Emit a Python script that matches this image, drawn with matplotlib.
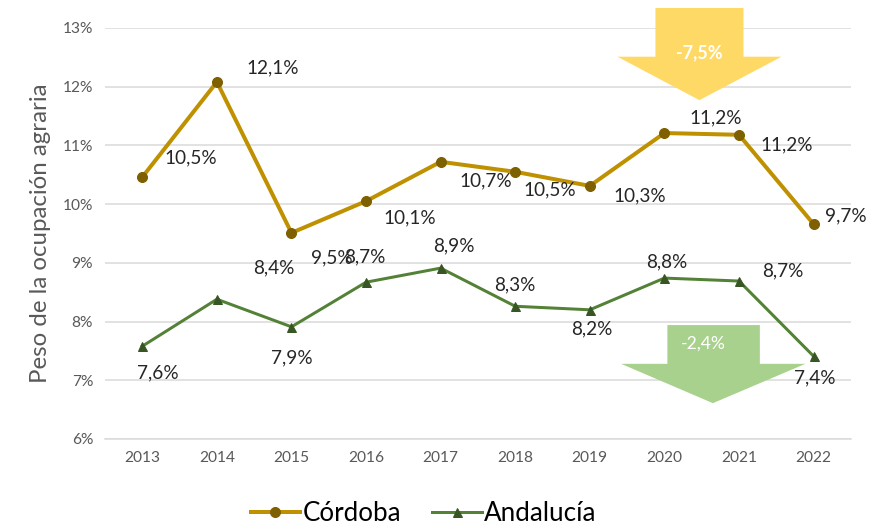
import matplotlib.pyplot as plt
from matplotlib.patches import Polygon
from matplotlib.lines import Line2D

plt.rcParams['font.family'] = ['Lato', 'DejaVu Sans']

years = [2013, 2014, 2015, 2016, 2017, 2018, 2019, 2020, 2021, 2022]
cordoba = [10.46, 12.08, 9.51, 10.05, 10.72, 10.55, 10.31, 11.21, 11.18, 9.66]
andalucia = [7.58, 8.38, 7.91, 8.67, 8.91, 8.26, 8.20, 8.74, 8.69, 7.41]
cordoba_lbl = ['10,5%', '12,1%', '9,5%', '10,1%', '10,7%', '10,5%', '10,3%', '11,2%', '11,2%', '9,7%']
andalucia_lbl = ['7,6%', '8,4%', '7,9%', '8,7%', '8,9%', '8,3%', '8,2%', '8,8%', '8,7%', '7,4%']

# label offsets in pixels (dpi 72 -> points == pixels)
cord_off = [(48, 19), (56, 14), (40, -25), (44, -17), (45, -19), (35, -18),
            (50, -10), (51, 15), (48, -10), (32, 8)]
anda_off = [(16, -27), (57, 31), (0, -31), (-1, 25), (13, 22), (0, 21),
            (2, -19), (2, 16), (44, 10), (1, -22)]

gold = '#BF9000'
green = '#538135'

fig = plt.figure(figsize=(870 / 72, 527 / 72), dpi=72)
ax = fig.add_axes([0.1207, 0.167, 0.8573, 0.78])

ax.set_xlim(2012.5, 2022.5)
ax.set_ylim(6, 13)
ax.set_yticks(range(6, 14))
ax.set_yticklabels([f'{v}%' for v in range(6, 14)])
ax.set_xticks(years)
ax.grid(axis='y', color='#D9D9D9', linewidth=1.5, zorder=0)
ax.set_axisbelow(True)
for s in ['top', 'right', 'left']:
    ax.spines[s].set_visible(False)
ax.spines['bottom'].set_color('#D9D9D9')
ax.spines['bottom'].set_linewidth(1.5)
ax.tick_params(length=0, labelsize=15.5, colors='#595959', pad=12)
ax.set_ylabel('Peso de la ocupación agraria', fontsize=24, color='#595959', labelpad=12)

# arrows (data coords)
gold_arrow = [(2019.88, 13.34), (2021.06, 13.34), (2021.06, 12.51), (2021.57, 12.51),
              (2020.47, 11.77), (2019.37, 12.51), (2019.88, 12.51)]
green_arrow = [(2020.04, 7.94), (2021.28, 7.94), (2021.28, 7.28), (2021.89, 7.28),
               (2020.65, 6.61), (2019.42, 7.28), (2020.04, 7.28)]
ax.add_patch(Polygon(gold_arrow, closed=True, color='#FFD966', zorder=1.5, clip_on=False, lw=0))
ax.add_patch(Polygon(green_arrow, closed=True, color='#A9D18E', zorder=1.5, clip_on=False, lw=0))
ax.text(2020.47, 12.58, '-7,5%', color='white', fontsize=18, fontweight='bold',
        ha='center', va='center', zorder=2)
ax.text(2020.52, 7.62, '-2,4%', color='white', fontsize=17.5, ha='center', va='center', zorder=2)

ax.plot(years, cordoba, color=gold, lw=4, marker='o', ms=10,
        mfc='#7F6000', mec='#7F6000', zorder=3)
ax.plot(years, andalucia, color=green, lw=3, marker='^', ms=9,
        mfc='#375623', mec='#375623', zorder=3)

for x, y, t, o in zip(years, cordoba, cordoba_lbl, cord_off):
    ax.annotate(t, (x, y), xytext=o, textcoords='offset points', ha='center',
                va='center', fontsize=19, color='#262626', zorder=4)
for x, y, t, o in zip(years, andalucia, andalucia_lbl, anda_off):
    ax.annotate(t, (x, y), xytext=o, textcoords='offset points', ha='center',
                va='center', fontsize=19, color='#262626', zorder=4)

handles = [Line2D([], [], color=gold, lw=4, marker='o', ms=10, mfc='#7F6000', mec='#7F6000'),
           Line2D([], [], color=green, lw=3, marker='^', ms=9, mfc='#375623', mec='#375623')]
fig.legend(handles, ['Córdoba', 'Andalucía'], loc='center', bbox_to_anchor=(0.487, 0.025),
           ncol=2, frameon=False, fontsize=26, handlelength=1.9, handletextpad=0.1,
           columnspacing=1.2)

fig.savefig('out.png', dpi=72)
